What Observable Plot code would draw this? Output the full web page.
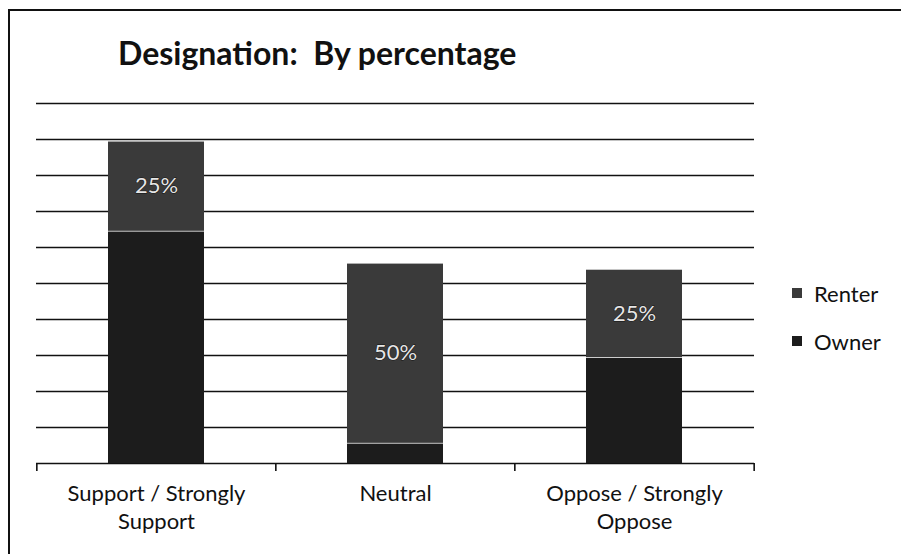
<!DOCTYPE html>
<html>
<head>
<meta charset="utf-8">
<script src="https://cdn.jsdelivr.net/npm/d3@7"></script>
<script src="https://cdn.jsdelivr.net/npm/@observablehq/plot@0.6"></script>
<style>
  html, body { margin: 0; padding: 0; background: #fff; overflow: hidden; }
  #page { position: relative; width: 901px; height: 554px; overflow: hidden; font-family: Lato, "Open Sans", sans-serif; }
  #hline { position: absolute; left: 8px; top: 9px; width: 893px; height: 2px; background: #111; }
  #vline { position: absolute; left: 8px; top: 9px; width: 2px; height: 545px; background: #111; }
  #title { position: absolute; left: 118px; top: 33px; font-size: 32px; font-weight: 700; color: #111; white-space: pre; letter-spacing: 0px; }
  #chart { position: absolute; left: 0; top: 80px; }
  #legend { position: absolute; left: 792px; top: 279px; font-size: 22px; color: #111; }
  .item { display: flex; align-items: center; height: 28px; margin-bottom: 20px; }
  .sw { width: 10px; height: 10px; margin-right: 12px; }
</style>
</head>
<body>
<div id="page">
  <div id="hline"></div>
  <div id="vline"></div>
  <div id="title">Designation:  By percentage</div>
  <div id="chart"></div>
  <div id="legend"></div>
</div>
<script>
// Data (percent scale 0–100)
const categories = ["Support / Strongly\nSupport", "Neutral", "Oppose / Strongly\nOppose"];
const seriesNames = ["Owner", "Renter"];
const ownerValues = [64.5, 5.6, 29.4];
const renterValues = [25, 50, 24.5];
const renterLabels = ["25%", "50%", "25%"];
const yTicks = [0, 10, 20, 30, 40, 50, 60, 70, 80, 90, 100];
const seriesColors = ["#1c1c1c", "#3a3a3a"];
const legendOrder = ["Renter", "Owner"];

const data = [];
categories.forEach((c, i) => {
  data.push({category: c, series: "Owner", value: ownerValues[i], label: null});
  data.push({category: c, series: "Renter", value: renterValues[i], label: renterLabels[i]});
});

const W = 901, H = 474;
const mL = 36, mR = 147, mT = 23, mB = 91;
const pIn = 0.6, pOut = 0.3;
const step = (W - mL - mR) / (categories.length - pIn + 2 * pOut);
const lastCat = [categories[categories.length - 1]];

const chart = Plot.plot({
  width: W,
  height: H,
  marginLeft: mL,
  marginRight: mR,
  marginTop: mT,
  marginBottom: mB,
  style: {fontFamily: "Lato, 'Open Sans', sans-serif", fontSize: "22px", color: "#111", background: "transparent"},
  x: {domain: categories, paddingInner: pIn, paddingOuter: pOut, label: null},
  y: {domain: [0, 100], axis: null},
  color: {domain: seriesNames, range: seriesColors},
  marks: [
    Plot.ruleY(yTicks, {stroke: "#111", strokeWidth: 1.6}),
    Plot.barY(data, Plot.stackY({x: "category", y: "value", fill: "series", order: seriesNames, insetTop: 0.75})),
    Plot.text(data, Plot.stackY({x: "category", y: "value", z: "series", order: seriesNames, text: "label", fill: "#e6e6e6", stroke: "#111", strokeWidth: 1, fontSize: 22})),
    Plot.ruleX(categories, {x: d => d, dx: -step / 2, y1: 0, y2: -2.2, stroke: "#111", strokeWidth: 1.6}),
    Plot.ruleX(lastCat, {x: d => d, dx: step / 2, y1: 0, y2: -2.2, stroke: "#111", strokeWidth: 1.6}),
    Plot.axisX({tickSize: 0, tickPadding: 18, lineHeight: 1.27, fontSize: 22, fill: "#111", label: null})
  ]
});
document.getElementById("chart").appendChild(chart);

const legend = document.getElementById("legend");
legendOrder.forEach(name => {
  const it = document.createElement("div");
  it.className = "item";
  const sw = document.createElement("span");
  sw.className = "sw";
  sw.style.background = seriesColors[seriesNames.indexOf(name)];
  const t = document.createElement("span");
  t.textContent = name;
  it.appendChild(sw);
  it.appendChild(t);
  legend.appendChild(it);
});
</script>
</body>
</html>
